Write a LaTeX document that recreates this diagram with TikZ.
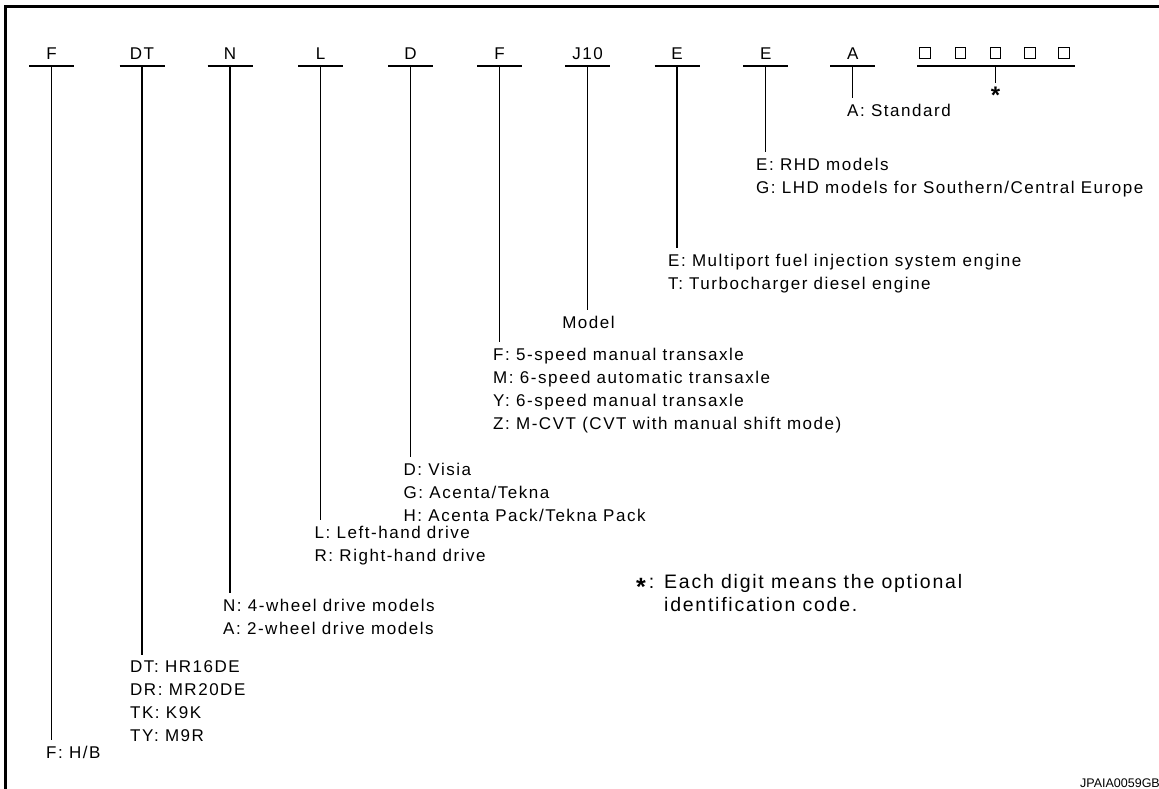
\documentclass[tikz,border=0pt]{standalone}
\usepackage{fontspec}
\setmainfont{Liberation Sans}
\newfontfamily\lsfont{Liberation Sans}[LetterSpace=9]
\usetikzlibrary{calc}
\begin{document}
\begin{tikzpicture}[x=1pt,y=-1pt,
  txt/.style={font=\lsfont\fontsize{17}{23}\selectfont, inner sep=0pt, align=left, anchor=north west},
  note/.style={font=\lsfont\fontsize{19.5}{23}\selectfont, inner sep=0pt, align=left, anchor=north west},
  code/.style={font=\lsfont\fontsize{17}{23}\selectfont, inner sep=0pt, anchor=base},
  bar/.style={line width=1.1pt},
  conn/.style={line width=1.1pt},
  digit/.style={draw, line width=1.1pt, minimum size=10.5pt, inner sep=0pt},
  frame/.style={line width=3pt},
  ]
\useasboundingbox (0,0) rectangle (1159,789);
\draw[frame] (1159,6.5) -- (5.5,6.5) -- (5.5,789);

% column F (body)
\coordinate (bF1) at (51.5,66);
\node[code] (cF1) at (51.5,60) {F};
\draw[bar] ($(bF1)+(-22.5,0)$) -- ($(bF1)+(22.5,0)$);
\node[txt] (tF1) at (46,745.8) {F: H/B};
\draw[conn] (bF1) -- ($(bF1 |- tF1.north)+(0,-6)$);

% column DT (engine)
\coordinate (bDT) at (142,66);
\node[code] (cDT) at (142,60) {DT};
\draw[bar] ($(bDT)+(-22.5,0)$) -- ($(bDT)+(22.5,0)$);
\node[txt] (tDT) at (130,660.8) {DT: HR16DE\\DR: MR20DE\\TK: K9K\\TY: M9R};
\draw[conn] (bDT) -- ($(bDT |- tDT.north)+(0,-6)$);

% column N
\coordinate (bN) at (230,66);
\node[code] (cN) at (230,60) {N};
\draw[bar] ($(bN)+(-22.5,0)$) -- ($(bN)+(22.5,0)$);
\node[txt] (tN) at (223,598.8) {N: 4-wheel drive models\\A: 2-wheel drive models};
\draw[conn] (bN) -- ($(bN |- tN.north)+(0,-6)$);

% column L
\coordinate (bL) at (320.5,66);
\node[code] (cL) at (320.5,60) {L};
\draw[bar] ($(bL)+(-22.5,0)$) -- ($(bL)+(22.5,0)$);
\node[txt] (tL) at (314.5,525.8) {L: Left-hand drive\\R: Right-hand drive};
\draw[conn] (bL) -- ($(bL |- tL.north)+(0,-6)$);

% column D
\coordinate (bD) at (410.5,66);
\node[code] (cD) at (410.5,60) {D};
\draw[bar] ($(bD)+(-22.5,0)$) -- ($(bD)+(22.5,0)$);
\node[txt] (tD) at (403.5,462.8) {D: Visia\\G: Acenta/Tekna\\H: Acenta Pack/Tekna Pack};
\draw[conn] (bD) -- ($(bD |- tD.north)+(0,-6)$);

% column F (transaxle)
\coordinate (bF2) at (499.5,66);
\node[code] (cF2) at (499.5,60) {F};
\draw[bar] ($(bF2)+(-22.5,0)$) -- ($(bF2)+(22.5,0)$);
\node[txt] (tF2) at (493,347.8) {F: 5-speed manual transaxle\\M: 6-speed automatic transaxle\\Y: 6-speed manual transaxle\\Z: M-CVT (CVT with manual shift mode)};
\draw[conn] (bF2) -- ($(bF2 |- tF2.north)+(0,-6)$);

% column J10
\coordinate (bJ) at (587.5,66);
\node[code] (cJ) at (587.5,60) {J10};
\draw[bar] ($(bJ)+(-22.5,0)$) -- ($(bJ)+(22.5,0)$);
\node[txt, anchor=north] (tJ) at (588.5,315.8) {Model};
\draw[conn] (bJ) -- ($(bJ |- tJ.north)+(0,-6)$);

% column E (engine type)
\coordinate (bE1) at (677,66);
\node[code] (cE1) at (677,60) {E};
\draw[bar] ($(bE1)+(-22.5,0)$) -- ($(bE1)+(22.5,0)$);
\node[txt] (tE1) at (668,253.8) {E: Multiport fuel injection system engine\\T: Turbocharger diesel engine};
\draw[conn] (bE1) -- ($(bE1 |- tE1.north)+(0,-6)$);

% column E (destination)
\coordinate (bE2) at (765.7,66);
\node[code] (cE2) at (765.7,60) {E};
\draw[bar] ($(bE2)+(-22.5,0)$) -- ($(bE2)+(22.5,0)$);
\node[txt] (tE2) at (756,157.8) {E: RHD models\\G: LHD models for Southern/Central Europe};
\draw[conn] (bE2) -- ($(bE2 |- tE2.north)+(0,-6)$);

% column A
\coordinate (bA) at (852.7,66);
\node[code] (cA) at (852.7,60) {A};
\draw[bar] ($(bA)+(-22.5,0)$) -- ($(bA)+(22.5,0)$);
\node[txt] (tA) at (847,103.8) {A: Standard};
\draw[conn] (bA) -- ($(bA |- tA.north)+(0,-6)$);

% optional digits
\node[digit] (d1) at (925,53) {};
\node[digit] (d2) at (960.5,53) {};
\node[digit] (d3) at (995.5,53) {};
\node[digit] (d4) at (1030,53) {};
\node[digit] (d5) at (1064,53) {};
\coordinate (bS) at (995.5,66);
\draw[bar] (917,66) -- (1075,66);
\node[inner sep=0pt, anchor=north, font=\fontsize{24}{24}\selectfont\bfseries] (st) at (995.5,87) {*};
\draw[conn] (bS) -- ($(st.north)+(0,-4)$);

% legend
\node[inner sep=0pt, anchor=base west, font=\fontsize{19.5}{23}\selectfont] (lstar) at (636,588) {\raisebox{-7.5pt}{\fontsize{25}{25}\selectfont\bfseries *}\hspace{3pt}:};
\node[note] (ltext) at (664,574) {Each digit means the optional\\identification code.};

% reference code
\node[inner sep=0pt, anchor=base east, font=\fontsize{12.5}{12.5}\selectfont] (ref) at (1160,787) {JPAIA0059GB};
\end{tikzpicture}
\end{document}
